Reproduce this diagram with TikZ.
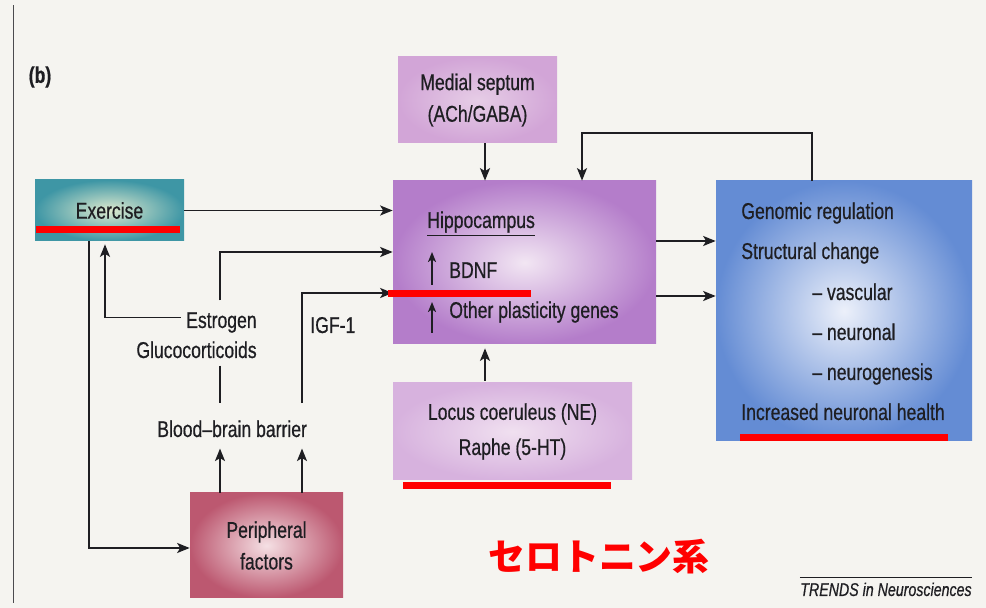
\documentclass[tikz,border=0pt]{standalone}
\usepackage{fontspec}
\setmainfont{Liberation Sans}[FakeStretch=0.77, FakeBold=0.6]
\newfontfamily\cjk{Noto Sans CJK JP}
\usetikzlibrary{positioning,arrows.meta}

\definecolor{paper}{RGB}{245,244,240}
\definecolor{ink}{RGB}{30,30,34}
\definecolor{exerOut}{RGB}{62,150,165}
\definecolor{exerIn}{RGB}{222,234,206}
\definecolor{septOut}{RGB}{210,165,215}
\definecolor{septIn}{RGB}{230,205,230}
\definecolor{hipOut}{RGB}{180,125,202}
\definecolor{hipIn}{RGB}{242,230,243}
\definecolor{effOut}{RGB}{100,140,212}
\definecolor{effIn}{RGB}{236,240,250}
\definecolor{locOut}{RGB}{215,178,222}
\definecolor{locIn}{RGB}{240,224,240}
\definecolor{perOut}{RGB}{188,88,112}
\definecolor{perIn}{RGB}{245,224,228}

\newcommand{\figfont}{\fontsize{13}{18}\selectfont}

\begin{document}
\begin{tikzpicture}[
    every node/.style={font=\figfont, text=ink},
    box/.style={inner sep=0pt, align=center},
    lbl/.style={inner sep=0pt},
    arr/.style={draw=ink, line width=1pt, -{Stealth[length=2.5mm,width=2mm,inset=0.6mm]}},
    tick/.style={draw=ink, line width=1pt, -{Stealth[length=2mm,width=1.6mm,inset=0.5mm]}},
    wire/.style={draw=ink, line width=1pt},
    hl/.style={fill=red}
  ]
    \fill[paper] (0,0) rectangle (19.72,12.16);
    \useasboundingbox (0,0) rectangle (19.72,12.16);
    \draw[ink!80, line width=0.5pt] (0.26,0.1) -- (0.26,12.06); % page edge

    \node[font=\figfont\bfseries] (tag) at (0.8,10.62) {(b)};

    % boxes
    \node[box, minimum width=2.98cm, minimum height=1.22cm, inner color=exerIn, outer color=exerOut] (exer) at (2.19,7.95) {Exercise};
    \node[box, minimum width=3.18cm, minimum height=1.72cm, inner color=septIn, outer color=septOut] (septum) at (9.55,10.16) {Medial septum\\(ACh/GABA)};
    \node[box, minimum width=5.26cm, minimum height=3.26cm, inner color=hipIn, outer color=hipOut] (hippo) at (10.49,6.91) {};
    \node[box, minimum width=5.12cm, minimum height=5.2cm, inner color=effIn, outer color=effOut] (effects) at (16.88,5.94) {};
    \node[box, minimum width=4.78cm, minimum height=1.94cm, inner color=locIn, outer color=locOut, font=\fontsize{13}{20}\selectfont] (locus) at (10.25,3.53) {Locus coeruleus (NE)\\Raphe (5-HT)};
    \node[box, minimum width=3.06cm, minimum height=2.1cm, inner color=perIn, outer color=perOut] (periph) at (5.33,1.25) {Peripheral\\factors};

    % hippocampus text
    \node[lbl, anchor=base west] (hiptitle) at (8.54,7.6) {\underline{Hippocampus}};
    \node[lbl, anchor=base west] (bdnf) at (8.98,6.6) {BDNF};
    \node[lbl, anchor=base west] (genes) at (8.98,5.8) {Other plasticity genes};
    \draw[tick] (8.64,6.46) -- (8.64,7.12);
    \draw[tick] (8.64,5.5) -- (8.64,6.12);

    % effects text
    \node[lbl, anchor=base west] (genomic) at (14.82,7.78) {Genomic regulation};
    \node[lbl, anchor=base west] (struct) at (14.82,6.98) {Structural change};
    \node[lbl, anchor=base west] (vasc) at (16.24,6.16) {-- vascular};
    \node[lbl, anchor=base west] (neur) at (16.24,5.36) {-- neuronal};
    \node[lbl, anchor=base west] (neurogen) at (16.24,4.56) {-- neurogenesis};
    \node[lbl, anchor=base west] (health) at (14.82,3.76) {Increased neuronal health};

    % side labels
    \node[lbl, anchor=base east] (estr) at (5.14,5.6) {Estrogen};
    \node[lbl, anchor=base east] (gluco) at (5.14,5.0) {Glucocorticoids};
    \node[lbl, anchor=base west] (igf) at (6.2,5.5) {IGF-1};
    \node[lbl, anchor=base west] (bbb) at (3.14,3.42) {Blood--brain barrier};

    \coordinate (colA) at (4.4,0);
    \coordinate (colB) at (6.04,0);
    \coordinate (fb) at (11.64,9.5);

    % connectors
    \draw[arr] (exer.east) -- (exer.east -| hippo.west);
    \draw[arr, shorten <=0.23cm] (colA |- estr.north) |- ([yshift=0.21cm]hippo.west);
    \draw[arr, shorten <=0.34cm] (colB |- bbb.north) |- ([yshift=-0.61cm]hippo.west);
    \draw[arr, shorten >=0.06cm] ([xshift=-0.1cm,yshift=0.1cm]estr.west) -| ([xshift=-0.09cm]exer.south);
    \draw[wire, shorten <=0.14cm, shorten >=0.34cm] (colA |- gluco.south) -- (colA |- bbb.north);
    \draw[arr, shorten >=0.22cm] (colA |- periph.north) -- (colA |- bbb.south);
    \draw[arr, shorten >=0.22cm] (colB |- periph.north) -- (colB |- bbb.south);
    \draw[arr] ([xshift=-0.41cm]exer.south) |- ([yshift=-0.05cm]periph.west);
    \draw[arr] ([xshift=0.15cm]septum.south) -- ([xshift=0.15cm]septum.south |- hippo.north);
    \draw[arr] ([xshift=-0.64cm]effects.north) |- (fb) -- (fb |- hippo.north);
    \draw[arr] ([yshift=0.43cm]hippo.east) -- ([yshift=0.43cm]hippo.east -| effects.west);
    \draw[arr] ([yshift=-0.67cm]hippo.east) -- ([yshift=-0.67cm]hippo.east -| effects.west);
    \draw[arr, shorten <=0.04cm, shorten >=0.08cm] ([xshift=-0.55cm]locus.north) -- ([xshift=-0.55cm]locus.north |- hippo.south);

    % red marks
    \fill[hl] (0.72,7.5) rectangle (3.6,7.64);   % Exercise
    \fill[hl] (7.76,6.22) rectangle (10.62,6.36); % BDNF
    \fill[hl] (8.06,2.38) rectangle (12.22,2.52); % Locus
    \fill[hl] (14.8,3.34) rectangle (18.96,3.48); % health
    \node[font=\fontsize{21}{24}\selectfont\cjk\bfseries, text=red] (jp) at (11.98,1.02) {セロトニン系};

    % source line
    \node[lbl, font=\fontsize{10.5}{12}\selectfont\itshape, anchor=base east] (src) at (19.44,0.24) {TRENDS in Neurosciences};
    \draw[ink, line width=0.5pt] ([yshift=0.1cm]src.north west) -- ([yshift=0.1cm]src.north east);
  \end{tikzpicture}
\end{document}
